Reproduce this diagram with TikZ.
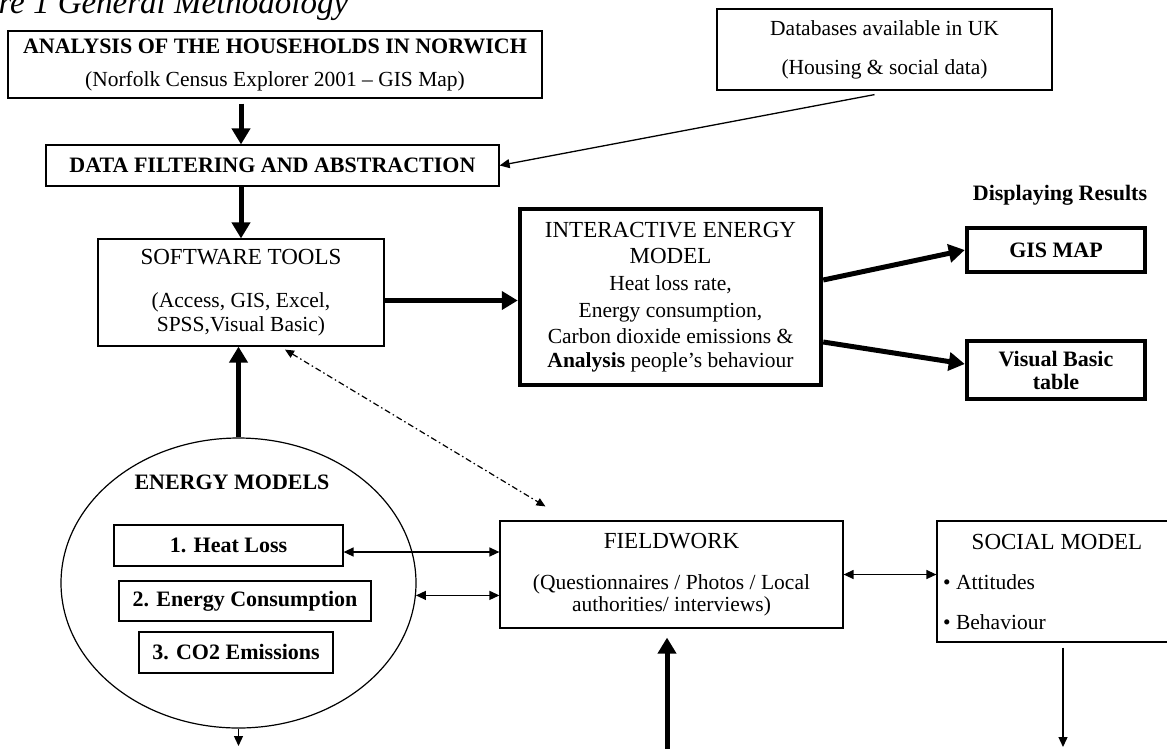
\documentclass[tikz,border=0pt]{standalone}
\usepackage{fontspec}
\setmainfont{Liberation Serif}
\usetikzlibrary{arrows.meta,positioning,shapes.geometric,calc}
\def\bodyfont{\fontsize{21.5}{26.6}\selectfont}
\def\headfont{\fontsize{23}{27}\selectfont}
\def\boldfont{\fontsize{22}{25}\selectfont\bfseries}
\tikzset{
  thinbox/.style={draw, line width=1.2pt, inner sep=0pt, align=center, font=\bodyfont},
  thickbox/.style={draw, line width=4.5pt, inner sep=0pt, align=center, font=\bodyfont},
  plaintext/.style={inner sep=0pt},
  bigarrow/.style={line width=5pt, -{Triangle[length=16pt,width=18pt]}},
  smallarrow/.style={line width=1.3pt, -{Triangle[length=10pt,width=9pt]}},
  twoway/.style={line width=1.3pt, {Triangle[length=10pt,width=9pt]}-{Triangle[length=10pt,width=9pt]}},
  dotdash/.style={line width=1.2pt, dash pattern=on 6pt off 3pt on 1.5pt off 3pt,
    {Triangle[length=9pt,width=8pt]}-{Triangle[length=9pt,width=8pt]}}
}

\begin{document}
\begin{tikzpicture}[x=1pt,y=-1pt]
  \useasboundingbox (0,0) rectangle (1167,748);
  \clip (0,0) rectangle (1167,748);
  \fill[white] (0,0) rectangle (1167,748);

  % caption, cut by the page edge
  \node[plaintext, anchor=base west, font=\itshape\fontsize{33}{40}\selectfont] (caption) at (-64,13) {Figure 1 General Methodology};

  % top row
  \node[thinbox, minimum width=534pt, minimum height=67pt] (house) at (275,64.5)
    {{\boldfont ANALYSIS OF THE HOUSEHOLDS IN NORWICH}\\[6.4pt](Norfolk Census Explorer 2001 -- GIS Map)};
  \node[thinbox, minimum width=335pt, minimum height=81pt] (db) at (884.5,49.5)
    {Databases available in UK\\[12.4pt](Housing \& social data)};
  \node[thinbox, minimum width=453pt, minimum height=41pt, font=\boldfont] (filter) at (272.5,165.5)
    {DATA FILTERING AND ABSTRACTION};

  % tools and model
  \node[thinbox, minimum width=286pt, minimum height=107pt] (soft) at (241,292.5)
    {{\headfont SOFTWARE TOOLS}\\[16.4pt](Access, GIS, Excel,\\[-2.6pt]SPSS,Visual Basic)};
  \node[thickbox, minimum width=301pt, minimum height=176pt] (iem) at (670.5,297)
    {{\headfont INTERACTIVE ENERGY}\\{\headfont MODEL}\\Heat loss rate,\\Energy consumption,\\Carbon dioxide emissions \&\\[-3pt]\textbf{Analysis} people’s behaviour};

  % results
  \node[plaintext, font=\boldfont] (display) at (1060,195) {Displaying Results};
  \node[thickbox, minimum width=178pt, minimum height=44pt, font=\boldfont] (gis) at (1056,250) {GIS MAP};
  \node[thickbox, minimum width=178pt, minimum height=58pt, font=\boldfont] (vb) at (1056,370)
    {Visual Basic\\[-2pt]table};

  % energy models
  \node[ellipse, draw, line width=1.2pt, minimum width=355pt, minimum height=290pt, inner sep=0pt] (emod) at (238.5,583) {};
  \node[plaintext, font=\boldfont] (emodtitle) at (232,482) {ENERGY MODELS};
  \node[thinbox, minimum width=229pt, minimum height=41pt, font=\boldfont] (heat) at (228.5,545.5) {1. Heat Loss};
  \node[thinbox, minimum width=252pt, minimum height=40pt, font=\boldfont] (cons) at (245,601) {2. Energy Consumption};
  \node[thinbox, minimum width=194pt, minimum height=41pt, font=\boldfont] (co2) at (236,652.5) {3. CO2 Emissions};

  % fieldwork and social model
  \node[thinbox, minimum width=343pt, minimum height=107pt] (field) at (671.5,574.5)
    {{\headfont FIELDWORK}\\[14.4pt](Questionnaires / Photos / Local\\[-4pt]authorities/ interviews)};
  \node[thinbox, minimum width=240pt, minimum height=121pt] (social) at (1057,581.5) {};
  \node[plaintext, font=\headfont] (socialtitle) at (1057,542) {SOCIAL MODEL};
  \node[plaintext, anchor=west, font=\bodyfont] (attitudes) at (943,582) {• Attitudes};
  \node[plaintext, anchor=west, font=\bodyfont] (behaviour) at (943,622) {• Behaviour};

  % free ends
  \coordinate (softout) at ($(soft.east)+(0,8)$);
  \coordinate (iemup) at ($(iem.east)+(0,-17)$);
  \coordinate (iemdown) at ($(iem.east)+(0,45)$);
  \coordinate (vbin) at ($(vb.west)+(0,-6)$);
  \coordinate (dd1) at ($(soft.south)+(44,3)$);
  \coordinate (dd2) at ($(field.north west)+(46,-14)$);
  \coordinate (heatout) at ($(heat.east)+(0,6.5)$);
  \coordinate (fieldin) at (667,750);
  \coordinate (socialout) at (1063,747);
  \coordinate (emodout) at (238.5,746);
  \coordinate (dbout) at ($(db.south)+(-10,4)$);

  % connectors
  \draw[bigarrow, shorten <=5pt] (house.south -| soft.north) -- (filter.north -| soft.north);
  \draw[bigarrow] (filter.south -| soft.north) -- (soft.north);
  \draw[smallarrow] (dbout) -- (filter.east);
  \draw[bigarrow] (softout) -- (softout -| iem.west);
  \draw[bigarrow] (iemup) -- (gis.west);
  \draw[bigarrow] (iemdown) -- (vbin);
  \draw[bigarrow] (emod.north) -- (emod.north |- soft.south);
  \draw[dotdash] (dd1) -- (dd2);
  \draw[twoway] (heatout) -- (heatout -| field.west);
  \draw[twoway] (emod.-4) -- (emod.-4 -| field.west);
  \draw[twoway] (field.east) -- (field.east -| social.west);
  \draw[bigarrow, shorten >=9pt] (fieldin) -- (fieldin |- field.south);
  \draw[smallarrow, shorten <=5pt] (socialout |- social.south) -- (socialout);
  \draw[smallarrow] (emod.south) -- (emodout);
\end{tikzpicture}
\end{document}
